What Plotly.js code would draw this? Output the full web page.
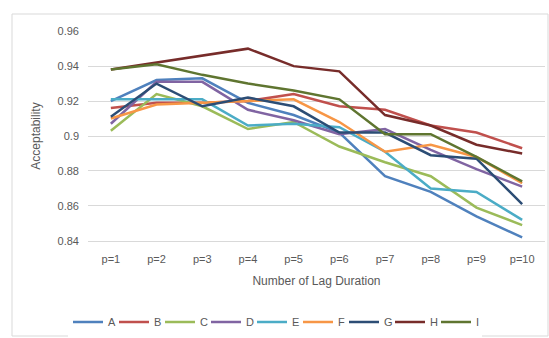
<!DOCTYPE html>
<html>
<head>
<meta charset="utf-8">
<script src="https://cdn.plot.ly/plotly-3.0.1.min.js"></script>
<style>html,body{margin:0;padding:0;background:#fff;}#chart{width:549px;height:338px;}</style>
</head>
<body>
<div id="chart"></div>
<script>
var categories = ["p=1","p=2","p=3","p=4","p=5","p=6","p=7","p=8","p=9","p=10"];
var seriesNames = ["A","B","C","D","E","F","G","H","I"];
var A = [0.920,0.932,0.933,0.919,0.912,0.902,0.877,0.868,0.854,0.842];
var B = [0.916,0.919,0.919,0.920,0.924,0.917,0.915,0.906,0.902,0.893];
var C = [0.903,0.924,0.917,0.904,0.908,0.894,0.885,0.877,0.859,0.849];
var D = [0.907,0.931,0.931,0.915,0.909,0.901,0.904,0.892,0.881,0.871];
var E = [0.921,0.921,0.921,0.906,0.907,0.905,0.891,0.870,0.868,0.852];
var F = [0.910,0.918,0.919,0.920,0.921,0.908,0.891,0.895,0.888,0.873];
var G = [0.911,0.930,0.917,0.922,0.917,0.902,0.902,0.889,0.887,0.861];
var H = [0.938,0.942,0.946,0.950,0.940,0.937,0.912,0.906,0.895,0.890];
var I = [0.938,0.941,0.935,0.930,0.926,0.921,0.901,0.901,0.888,0.874];
var seriesValues = [A,B,C,D,E,F,G,H,I];
var colors = ["#4F81BD","#C0504D","#9BBB59","#8064A2","#4BACC6","#F79646","#2C4D75","#772C2A","#5F7530"];
var yTicks = [0.84,0.86,0.88,0.9,0.92,0.94,0.96];
var yTickText = ["0.84","0.86","0.88","0.9","0.92","0.94","0.96"];

var traces = seriesNames.map(function(n,i){
  return {type:"scatter",mode:"lines",name:n,x:categories,y:seriesValues[i],
    line:{color:colors[i],width:2.5}};
});
var L=88,R=4,T=31,B_=97,W=549,Hh=338;
var pw=W-L-R, ph=Hh-T-B_;
function px(x){return (x-L)/pw;}
function py(y){return (Hh-B_-y)/ph;}
var layout = {
  width:W,height:Hh,
  margin:{l:L,r:R,t:T,b:B_,pad:0,autoexpand:false},
  paper_bgcolor:"#fff",plot_bgcolor:"#fff",
  font:{family:"Liberation Sans, Arial, sans-serif",size:11,color:"#595959"},
  showlegend:true,
  legend:{orientation:"h",x:px(68),xanchor:"left",y:py(322),yanchor:"middle",
    entrywidth:1,entrywidthmode:"pixels",font:{size:11,color:"#595959"},tracegroupgap:0,itemwidth:30},
  xaxis:{type:"category",range:[-0.5,9.5],showgrid:false,zeroline:false,
    showline:true,linecolor:"#d9d9d9",linewidth:1,ticks:"",ticklabelstandoff:8,
    tickfont:{size:11,color:"#595959"},
    title:{text:"Number of Lag Duration",font:{size:12,color:"#595959"},standoff:12}},
  yaxis:{range:[0.8399,0.9601],tickvals:yTicks,ticktext:yTickText,showgrid:true,
    gridcolor:"#d9d9d9",gridwidth:1,zeroline:false,showline:false,ticks:"",ticklen:0,
    ticklabelstandoff:8,
    tickfont:{size:11,color:"#595959"},
    title:{text:"Acceptability",font:{size:12,color:"#595959"},standoff:14}},
  shapes:[{type:"rect",xref:"paper",yref:"paper",x0:px(12),x1:px(548),y0:py(336),y1:py(14),
    line:{color:"#d9d9d9",width:1},fillcolor:"rgba(0,0,0,0)",layer:"below"}]
};
Plotly.newPlot("chart",traces,layout,{staticPlot:true,displayModeBar:false});
</script>
</body>
</html>
